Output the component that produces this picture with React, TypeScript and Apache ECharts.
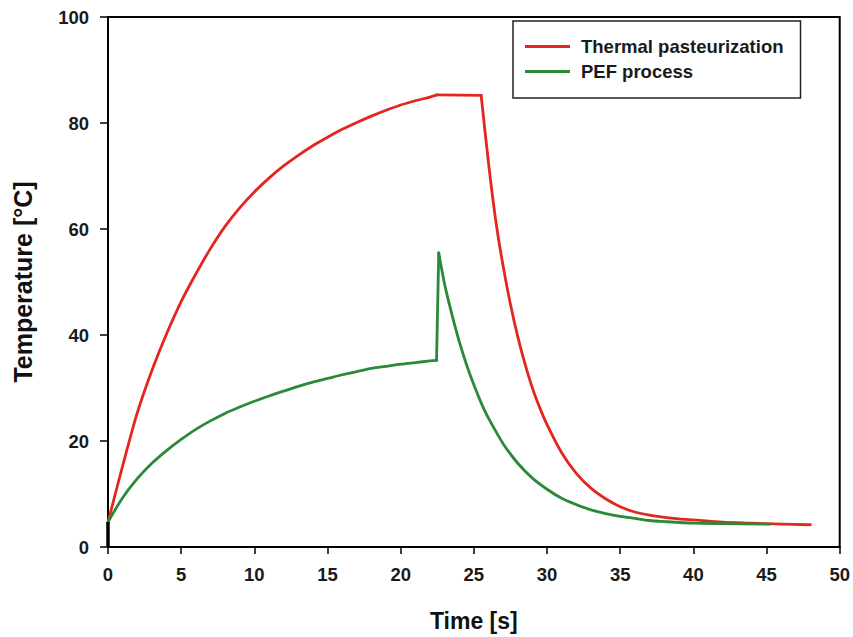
import React, { useEffect, useRef } from "react";
import * as echarts from "echarts";

// Thermal pasteurization — heating, holding, cooling  [time s] / [temperature °C]
const thermalHeatTime = [0, 1, 2, 3, 4, 5, 6, 7, 8, 9, 10, 11, 12, 13, 14, 15, 16, 17, 18, 19, 20, 21, 22, 22.5];
const thermalHeatTemp = [4.7, 15.3, 25.3, 33.3, 40.2, 46.3, 51.5, 56.3, 60.5, 64.0, 67.0, 69.6, 71.9, 73.9, 75.7, 77.3, 78.8, 80.1, 81.3, 82.4, 83.4, 84.2, 84.9, 85.3];
const thermalHoldTime = [22.5, 25.5];
const thermalHoldTemp = [85.3, 85.2];
const thermalCoolTime = [25.5, 26, 26.5, 27, 27.5, 28, 28.5, 29, 29.5, 30, 31, 32, 33, 34, 35, 36, 37, 38, 39, 40, 42, 44, 46, 48];
const thermalCoolTemp = [85.2, 72.5, 61.5, 53.0, 45.8, 39.7, 34.5, 30.0, 26.3, 23.1, 17.8, 13.9, 11.1, 9.1, 7.6, 6.6, 6.0, 5.6, 5.3, 5.1, 4.7, 4.5, 4.3, 4.2];

// PEF process — heating, pulse, cooling
const pefHeatTime = [0, 1, 2, 3, 4, 5, 6, 7, 8, 9, 10, 11, 12, 13, 14, 15, 16, 17, 18, 19, 20, 21, 22, 22.45];
const pefHeatTemp = [4.7, 9.3, 12.9, 15.8, 18.2, 20.3, 22.2, 23.8, 25.2, 26.4, 27.5, 28.5, 29.4, 30.3, 31.1, 31.8, 32.5, 33.1, 33.7, 34.1, 34.5, 34.8, 35.1, 35.2];
const pefPulseTime = [22.45, 22.6];
const pefPulseTemp = [35.2, 55.5];
const pefCoolTime = [22.6, 23, 23.5, 24, 24.5, 25, 25.5, 26, 27, 28, 29, 30, 31, 32, 33, 34, 35, 36, 37, 38, 40, 42, 45.2];
const pefCoolTemp = [55.5, 49.6, 43.9, 38.8, 34.4, 30.6, 27.2, 24.3, 19.5, 15.8, 13.0, 10.9, 9.2, 8.0, 7.0, 6.3, 5.8, 5.4, 5.0, 4.8, 4.5, 4.4, 4.3];

// initial segment at t = 0
const startTime = [0, 0];
const startTemp = [0, 4.7];

const seriesNames = ["Thermal pasteurization", "PEF process"];
const RED = "#e3261f";
const GREEN = "#2a8a38";

const FONT = "'Liberation Sans', Arial, Helvetica, sans-serif";

export default function App() {
  const ref = useRef<HTMLDivElement>(null);
  useEffect(() => {
    if (!ref.current) return;
    const chart = echarts.init(ref.current, undefined, { renderer: "svg" });
    const zip = (xs: number[], ys: number[]) => xs.map((x, i) => [x, ys[i]]);
    const seg = (name: string, color: string, xs: number[], ys: number[], smooth: number | boolean, z: number) => ({
      name,
      type: "line",
      data: zip(xs, ys),
      symbol: "none",
      smooth,
      color,
      lineStyle: { color, width: 2.8, cap: "round", join: "round" },
      z,
    });
    chart.setOption({
      animation: false,
      backgroundColor: "#fff",
      grid: {
        left: 108,
        right: 10,
        top: 17,
        bottom: 89,
        show: true,
        borderColor: "#000",
        borderWidth: 2,
        backgroundColor: "transparent",
      },
      legend: {
        data: seriesNames,
        orient: "vertical",
        left: 513,
        top: 21,
        borderColor: "#222",
        borderWidth: 1.5,
        borderRadius: 0,
        padding: [16, 17, 17, 12],
        icon: "rect",
        itemWidth: 45,
        itemHeight: 3,
        itemGap: 6,
        textStyle: {
          fontFamily: FONT,
          fontSize: 18.5,
          fontWeight: "bold",
          color: "#1a1a1a",
          padding: [0, 0, 0, 6],
        },
      },
      xAxis: {
        type: "value",
        min: 0,
        max: 50,
        interval: 5,
        name: "Time [s]",
        nameLocation: "middle",
        nameGap: 62,
        nameTextStyle: { fontFamily: FONT, fontSize: 23, fontWeight: "bold", color: "#111" },
        axisLine: { lineStyle: { color: "#000", width: 2 } },
        axisTick: { show: true, length: 7, lineStyle: { color: "#000", width: 1.5 } },
        splitLine: { show: false },
        axisLabel: { margin: 18, fontFamily: FONT, fontSize: 18.5, fontWeight: "bold", color: "#1a1a1a" },
      },
      yAxis: {
        type: "value",
        min: 0,
        max: 100,
        interval: 20,
        name: "Temperature [°C]",
        nameLocation: "middle",
        nameGap: 73,
        nameRotate: 90,
        nameTextStyle: { fontFamily: FONT, fontSize: 25, fontWeight: "bold", color: "#111" },
        axisLine: { lineStyle: { color: "#000", width: 2 } },
        axisTick: { show: true, length: 8, lineStyle: { color: "#000", width: 1.5 } },
        splitLine: { show: false },
        axisLabel: { margin: 19, fontFamily: FONT, fontSize: 18.5, fontWeight: "bold", color: "#1a1a1a" },
      },
      series: [
        seg(seriesNames[0], RED, thermalHeatTime, thermalHeatTemp, 0.3, 3),
        seg(seriesNames[0], RED, thermalHoldTime, thermalHoldTemp, false, 3),
        seg(seriesNames[0], RED, thermalCoolTime, thermalCoolTemp, 0.3, 3),
        seg(seriesNames[1], GREEN, pefHeatTime, pefHeatTemp, 0.3, 4),
        seg(seriesNames[1], GREEN, pefPulseTime, pefPulseTemp, false, 4),
        seg(seriesNames[1], GREEN, pefCoolTime, pefCoolTemp, 0.3, 4),
        {
          name: "start",
          type: "line",
          data: zip(startTime, startTemp),
          symbol: "none",
          color: "#000",
          lineStyle: { color: "#000", width: 3.5 },
          z: 5,
        },
      ],
    });
    return () => chart.dispose();
  }, []);
  return (
    <div
      ref={ref}
      style={{ position: "fixed", left: 0, top: 0, width: 853, height: 637, background: "#fff" }}
    />
  );
}
